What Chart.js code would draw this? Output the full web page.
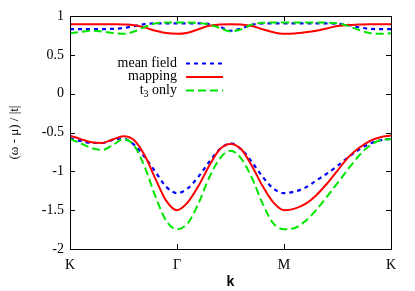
<!DOCTYPE html>
<html>
<head>
<meta charset="utf-8">
<script src="https://cdn.jsdelivr.net/npm/chart.js@4.4.0/dist/chart.umd.min.js"></script>
<style>
  html, body { margin: 0; padding: 0; background: #fff; }
  #wrap { width: 415px; height: 291px; }
</style>
</head>
<body>
<div id="wrap"><canvas id="bands" width="415" height="291"></canvas></div>
<script>
// k path K - Gamma - M - K, each segment one unit
const kpath = [0.0, 0.1, 0.2, 0.3, 0.4, 0.5, 0.6, 0.7, 0.8, 0.9,
               1.0, 1.1, 1.2, 1.3, 1.4, 1.5, 1.6, 1.7, 1.8, 1.9,
               2.0, 2.1, 2.2, 2.3, 2.4, 2.5, 2.6, 2.7, 2.8, 2.9, 3.0];

const xTickPos = [0, 1, 2, 3];
const xTickLabels = ['K', 'Γ', 'M', 'K'];
const yTickValues = [-2, -1.5, -1, -0.5, 0, 0.5, 1];

// mean field
const meanUpper = [0.83, 0.83, 0.83, 0.83, 0.835, 0.845, 0.87, 0.895, 0.905, 0.905,
                   0.905, 0.905, 0.905, 0.895, 0.86, 0.81, 0.84, 0.885, 0.905, 0.905,
                   0.905, 0.905, 0.905, 0.905, 0.905, 0.9, 0.885, 0.855, 0.835, 0.83, 0.83];
const meanLower = [-0.575, -0.61, -0.635, -0.635, -0.595, -0.58, -0.66, -0.82, -1.01, -1.2,
                   -1.28, -1.22, -1.07, -0.88, -0.715, -0.64, -0.715, -0.88, -1.07, -1.22,
                   -1.28, -1.26, -1.21, -1.12, -1.03, -0.93, -0.82, -0.72, -0.645, -0.6, -0.58];

// mapping
const mapUpper = [0.895, 0.895, 0.895, 0.895, 0.893, 0.89, 0.88, 0.85, 0.81, 0.78,
                  0.77, 0.785, 0.83, 0.875, 0.89, 0.895, 0.89, 0.87, 0.83, 0.79,
                  0.77, 0.775, 0.79, 0.81, 0.84, 0.87, 0.885, 0.89, 0.895, 0.895, 0.895];
const mapLower = [-0.54, -0.585, -0.625, -0.635, -0.59, -0.548, -0.6, -0.8, -1.1, -1.38,
                  -1.5, -1.4, -1.19, -0.93, -0.715, -0.647, -0.715, -0.93, -1.19, -1.4,
                  -1.5, -1.48, -1.42, -1.31, -1.16, -0.99, -0.82, -0.7, -0.61, -0.56, -0.54];

// t3 only
const t3Upper = [0.777, 0.795, 0.81, 0.8, 0.78, 0.77, 0.8, 0.86, 0.905, 0.915,
                 0.915, 0.915, 0.91, 0.89, 0.845, 0.8, 0.83, 0.89, 0.912, 0.915,
                 0.915, 0.915, 0.915, 0.915, 0.915, 0.905, 0.87, 0.82, 0.78, 0.77, 0.777];
const t3Lower = [-0.583, -0.64, -0.7, -0.725, -0.66, -0.585, -0.67, -0.95, -1.33, -1.64,
                 -1.745, -1.67, -1.415, -1.085, -0.835, -0.735, -0.835, -1.085, -1.415, -1.67,
                 -1.745, -1.73, -1.64, -1.5, -1.33, -1.15, -0.97, -0.8, -0.67, -0.6, -0.583];

const seriesNames = ['mean field', 'mapping', 't3 only'];

const BLUE = '#0000ff';
const RED = '#ff0000';
const GREEN = '#00e600';

function pts(arr) {
    return kpath.map((k, i) => ({ x: k, y: arr[i] }));
}

function band(arr, color, dash, width) {
    return {
        data: pts(arr),
        borderColor: color,
        borderWidth: width,
        borderDash: dash,
        pointRadius: 0,
        fill: false,
        showLine: true,
        cubicInterpolationMode: 'monotone'
    };
}

// first dataset is drawn on top
const datasets = [
    band(t3Upper, GREEN, [8, 4], 2),
    band(t3Lower, GREEN, [8, 4], 2),
    band(mapUpper, RED, [], 2),
    band(mapLower, RED, [], 2),
    band(meanUpper, BLUE, [4, 4], 2.2),
    band(meanLower, BLUE, [4, 4], 2.2)
];

// frame + inward ticks, like gnuplot
const framePlugin = {
    id: 'frame',
    afterDatasetsDraw(chart) {
        const { ctx, chartArea: a, scales } = chart;
        ctx.save();
        ctx.strokeStyle = '#000';
        ctx.lineWidth = 1;
        ctx.beginPath();
        yTickValues.forEach(v => {
            const y = Math.round(scales.y.getPixelForValue(v)) + 0.5;
            ctx.moveTo(a.left, y); ctx.lineTo(a.left + 5, y);
            ctx.moveTo(a.right, y); ctx.lineTo(a.right - 5, y);
        });
        xTickPos.forEach(v => {
            const x = Math.round(scales.x.getPixelForValue(v)) + 0.5;
            ctx.moveTo(x, a.top); ctx.lineTo(x, a.top + 5);
            ctx.moveTo(x, a.bottom); ctx.lineTo(x, a.bottom - 5);
        });
        ctx.stroke();
        ctx.strokeRect(Math.round(a.left) + 0.5, Math.round(a.top) + 0.5,
                       Math.round(a.right - a.left), Math.round(a.bottom - a.top));
        ctx.restore();
    }
};

// gnuplot-style key: text right aligned, sample line on its right
const keyPlugin = {
    id: 'key',
    afterDraw(chart) {
        const { ctx, chartArea: a } = chart;
        const textRight = a.left + 107;
        const lineX0 = textRight + 9, lineX1 = textRight + 46;
        const rows = [
            { y: 63, color: BLUE, dash: [4, 4], w: 2.2 },
            { y: 76.5, color: RED, dash: [], w: 2 },
            { y: 90, color: GREEN, dash: [8, 4], w: 2 }
        ];
        ctx.save();
        ctx.fillStyle = '#000';
        ctx.textBaseline = 'middle';
        ctx.textAlign = 'right';
        const font = '14px "Liberation Serif"';
        const sub = '10px "Liberation Serif"';
        rows.forEach((r, i) => {
            const name = seriesNames[i];
            if (name === 't3 only') {
                ctx.font = font;
                const tail = ' only';
                const wTail = ctx.measureText(tail).width;
                ctx.fillText(tail, textRight, r.y);
                ctx.font = sub;
                const w3 = ctx.measureText('3').width;
                ctx.fillText('3', textRight - wTail, r.y + 4);
                ctx.font = font;
                ctx.fillText('t', textRight - wTail - w3, r.y);
            } else {
                ctx.font = font;
                ctx.fillText(name, textRight, r.y);
            }
            ctx.strokeStyle = r.color;
            ctx.lineWidth = r.w;
            ctx.setLineDash(r.dash);
            ctx.beginPath();
            ctx.moveTo(lineX0, r.y + 0.5);
            ctx.lineTo(lineX1, r.y + 0.5);
            ctx.stroke();
        });
        ctx.restore();
    }
};

Chart.defaults.color = '#000';
Chart.defaults.font.family = '"Liberation Serif"';
Chart.defaults.font.size = 14;

new Chart(document.getElementById('bands'), {
    type: 'scatter',
    data: { datasets: datasets },
    options: {
        responsive: false,
        animation: false,
        devicePixelRatio: 1,
        layout: { padding: { top: 16, right: 24, left: 0, bottom: 0 } },
        plugins: {
            legend: { display: false },
            tooltip: { enabled: false }
        },
        scales: {
            x: {
                type: 'linear',
                min: 0,
                max: 3,
                afterFit: (s) => { s.height = 42; },
                afterBuildTicks: (s) => { s.ticks = xTickPos.map(v => ({ value: v })); },
                ticks: {
                    padding: 8,
                    maxRotation: 0,
                    autoSkip: false,
                    callback: (v, i) => xTickLabels[i]
                },
                grid: { display: false, drawTicks: false },
                border: { display: false },
                title: {
                    display: true,
                    text: 'k',
                    font: { family: '"Liberation Sans"', weight: 'bold', size: 14 },
                    padding: { top: 0, bottom: 0 }
                }
            },
            y: {
                min: -2,
                max: 1,
                afterFit: (s) => { s.width = 70; },
                afterBuildTicks: (s) => { s.ticks = yTickValues.map(v => ({ value: v })); },
                ticks: {
                    padding: 6,
                    callback: (v) => String(v)
                },
                grid: { display: false, drawTicks: false },
                border: { display: false },
                title: {
                    display: true,
                    text: '(ω - μ) / |t|',
                    font: { size: 13 },
                    padding: { top: 7, bottom: 0 }
                }
            }
        }
    },
    plugins: [framePlugin, keyPlugin]
});
</script>
</body>
</html>
